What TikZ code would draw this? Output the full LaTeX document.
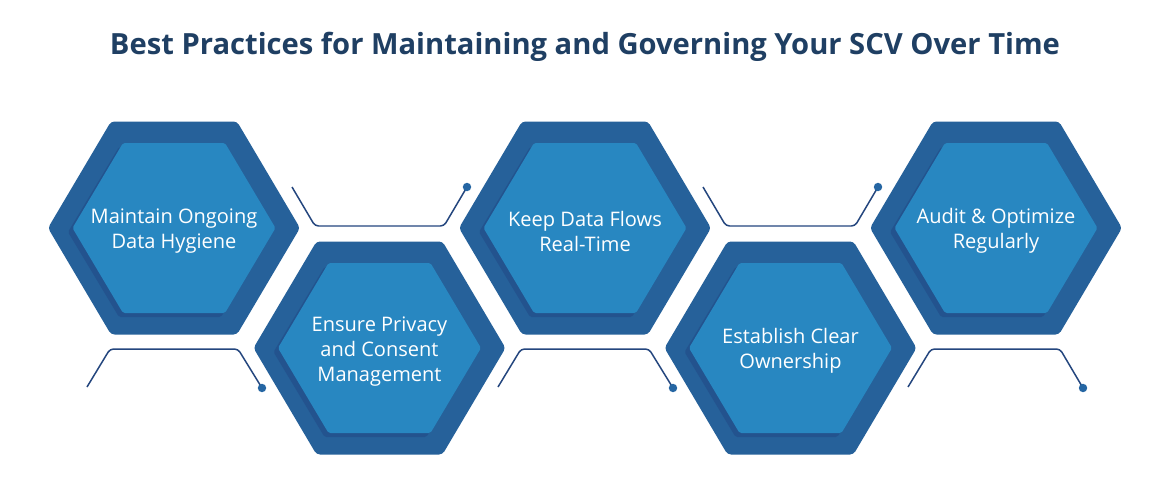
\documentclass[tikz,border=0pt]{standalone}
\usepackage{fontspec}
\setmainfont{Open Sans}
\definecolor{titleblue}{RGB}{31, 63, 99}
\definecolor{hexdark}{RGB}{38, 97, 154}
\definecolor{hexlight}{RGB}{40, 135, 193}
\definecolor{hexshade}{RGB}{33, 74, 134}
\definecolor{linkblue}{RGB}{36, 70, 126}
\definecolor{dotblue}{RGB}{37, 102, 163}
\usetikzlibrary{calc}

% one hexagon cell: name, centre, text
\newcommand{\hexcell}[3]{%
  \coordinate (#1) at (#2);
  \begin{scope}[shift={(#1)}]
    \fill[hexdark, rounded corners=2pt] (-126,0) -- (-63,-106.5) -- (63,-106.5) -- (126,0) -- (63,106.5) -- (-63,106.5) -- cycle;
    \fill[hexshade, opacity=0.6, rounded corners=1pt] (-106,4) -- (-55,-81) -- (47,-81) -- (98,4) -- (47,89) -- (-55,89) -- cycle;
    \fill[hexlight, rounded corners=1pt] (-101.5,0) -- (-51,-85) -- (51,-85) -- (101.5,0) -- (51,85) -- (-51,85) -- cycle;
  \end{scope}
  \node[hextext] (#1-txt) at (#1) {#3};
}

\begin{document}
\begin{tikzpicture}[x=0.02cm, y=-0.02cm,
  hextext/.style={text=white, align=center, yshift=-1.8pt, font=\fontsize{11.4}{14.2}\selectfont},
  link/.style={draw=linkblue, line width=0.85pt, rounded corners=2pt},
  linkdot/.style={fill=dotblue}]
  \useasboundingbox[fill=white] (0,0) rectangle (1170,480);

  % Title
  \node[text=titleblue, font=\bfseries\fontsize{16.6}{20}\selectfont] (title) at (585,47)
    {Best Practices for Maintaining and Governing Your SCV Over Time};

  % Hexagons
  \hexcell{h1}{174,228}{Maintain Ongoing\\Data Hygiene}
  \hexcell{h2}{379.5,348}{Ensure Privacy\\and Consent\\Management}
  \hexcell{h3}{585,228}{Keep Data Flows\\Real-Time}
  \hexcell{h4}{790.5,348}{Establish Clear\\Ownership}
  \hexcell{h5}{996,228}{Audit \& Optimize\\Regularly}

  % Top connectors
  \coordinate (t1a) at (292,187);
  \coordinate (t1b) at (315,226);
  \coordinate (t1c) at (444,226);
  \coordinate (t1d) at (467,187);
  \coordinate (t2a) at (703,187);
  \coordinate (t2b) at (726,226);
  \coordinate (t2c) at (855,226);
  \coordinate (t2d) at (878,187);
  \draw[link] (t1a) -- (t1b) -- (t1c) -- (t1d);
  \draw[link] (t2a) -- (t2b) -- (t2c) -- (t2d);
  \fill[linkdot] (t1d) circle (2.4pt);
  \fill[linkdot] (t2d) circle (2.4pt);

  % Bottom connectors
  \coordinate (b1a) at (87,387);
  \coordinate (b1b) at (110,349);
  \coordinate (b1c) at (238,349);
  \coordinate (b1d) at (262,388);
  \coordinate (b2a) at (498,387);
  \coordinate (b2b) at (521,349);
  \coordinate (b2c) at (649,349);
  \coordinate (b2d) at (673,388);
  \coordinate (b3a) at (908,387);
  \coordinate (b3b) at (931,349);
  \coordinate (b3c) at (1060,349);
  \coordinate (b3d) at (1083,388);
  \draw[link] (b1a) -- (b1b) -- (b1c) -- (b1d);
  \draw[link] (b2a) -- (b2b) -- (b2c) -- (b2d);
  \draw[link] (b3a) -- (b3b) -- (b3c) -- (b3d);
  \fill[linkdot] (b1d) circle (2.4pt);
  \fill[linkdot] (b2d) circle (2.4pt);
  \fill[linkdot] (b3d) circle (2.4pt);
\end{tikzpicture}
\end{document}
